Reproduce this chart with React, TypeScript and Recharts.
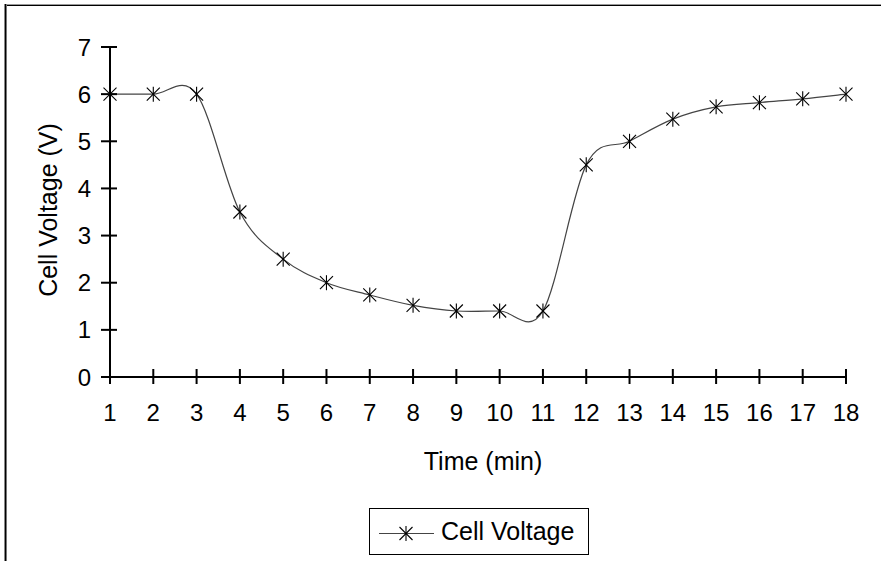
import { Label, Legend, Line, LineChart, XAxis, YAxis } from 'recharts';

const minutes = [1, 2, 3, 4, 5, 6, 7, 8, 9, 10, 11, 12, 13, 14, 15, 16, 17, 18];
const cellVoltage = [6, 6, 6, 3.5, 2.5, 2, 1.74, 1.52, 1.4, 1.4, 1.4, 4.5, 5, 5.47, 5.73, 5.82, 5.9, 6];
const voltageTicks = [0, 1, 2, 3, 4, 5, 6, 7];

const chartData = minutes.map((t, i) => ({ t, v: cellVoltage[i] }));

const FONT = '"Liberation Sans", Arial, sans-serif';
const TICK_SIZE = 24;
const TITLE_SIZE = 25;

// Excel-like smoothed line (Catmull-Rom through every point)
function excelSmooth(context: any) {
  let pts: [number, number][] = [];
  return {
    areaStart() {},
    areaEnd() {},
    lineStart() {
      pts = [];
    },
    lineEnd() {
      if (!pts.length) return;
      context.moveTo(pts[0][0], pts[0][1]);
      for (let i = 0; i < pts.length - 1; i++) {
        const p0 = pts[i - 1] ?? pts[i];
        const p1 = pts[i];
        const p2 = pts[i + 1];
        const p3 = pts[i + 2] ?? p2;
        context.bezierCurveTo(
          p1[0] + (p2[0] - p0[0]) / 6,
          p1[1] + (p2[1] - p0[1]) / 6,
          p2[0] - (p3[0] - p1[0]) / 6,
          p2[1] - (p3[1] - p1[1]) / 6,
          p2[0],
          p2[1],
        );
      }
    },
    point(x: number, y: number) {
      pts.push([x, y]);
    },
  };
}

function Star({ cx, cy }: { cx?: number; cy?: number }) {
  if (cx == null || cy == null) return null;
  return (
    <g stroke="#000" strokeWidth={1.1}>
      <line x1={cx} y1={cy - 7.5} x2={cx} y2={cy + 7.5} />
      <line x1={cx - 6.5} y1={cy - 6.5} x2={cx + 6.5} y2={cy + 6.5} />
      <line x1={cx - 6.5} y1={cy + 6.5} x2={cx + 6.5} y2={cy - 6.5} />
    </g>
  );
}

function YTick({ x, y, payload }: any) {
  return (
    <g>
      <line x1={x - 9} y1={y} x2={x + 7} y2={y} stroke="#000" strokeWidth={2} />
      <text x={x - 19} y={y} dy="0.36em" textAnchor="end" fontFamily={FONT} fontSize={TICK_SIZE} fill="#000">
        {payload.value}
      </text>
    </g>
  );
}

function XTick({ x, y, payload }: any) {
  return (
    <g>
      <line x1={x} y1={y - 8} x2={x} y2={y + 7} stroke="#000" strokeWidth={2} />
      <text x={x} y={y + 44} textAnchor="middle" fontFamily={FONT} fontSize={TICK_SIZE} fill="#000">
        {payload.value}
      </text>
    </g>
  );
}

function LegendBox() {
  return (
    <div
      style={{
        width: 218,
        height: 45,
        border: '1px solid #000',
        position: 'relative',
        background: '#fff',
        fontFamily: FONT,
      }}
    >
      <svg width={70} height={45} style={{ position: 'absolute', left: 0, top: 0 }}>
        <line x1={9} y1={24.5} x2={64} y2={24.5} stroke="#444" strokeWidth={1} />
        <Star cx={36} cy={24.5} />
      </svg>
      <span style={{ position: 'absolute', left: 71, top: 8, fontSize: TITLE_SIZE, lineHeight: '28px', color: '#000' }}>
        Cell Voltage
      </span>
    </div>
  );
}

export default function App() {
  return (
    <div style={{ position: 'absolute', left: 0, top: 0, width: 881, height: 561, background: '#fff' }}>
      <div style={{ position: 'absolute', left: 4, top: 4, width: 877, height: 1, background: '#999' }} />
      <div style={{ position: 'absolute', left: 4, top: 5, width: 877, height: 1, background: '#000' }} />
      <div style={{ position: 'absolute', left: 4, top: 4, width: 1, height: 557, background: '#888' }} />
      <div style={{ position: 'absolute', left: 5, top: 4, width: 1, height: 557, background: '#000' }} />
      <div style={{ position: 'absolute', left: 6, top: 4, width: 1, height: 557, background: '#777' }} />
      <LineChart
        width={881}
        height={561}
        data={chartData}
        margin={{ top: 47, right: 35, bottom: 84, left: 10 }}
      >
        <XAxis
          dataKey="t"
          type="number"
          domain={[1, 18]}
          ticks={minutes}
          interval={0}
          height={100}
          tickSize={0}
          tickMargin={0}
          tickLine={false}
          axisLine={{ stroke: '#000', strokeWidth: 2 }}
          tick={<XTick />}
        >
          <Label
            content={({ viewBox }: any) => (
              <text
                x={viewBox.x + viewBox.width / 2 + 5}
                y={viewBox.y + 93}
                textAnchor="middle"
                fontFamily={FONT}
                fontSize={TITLE_SIZE}
                fill="#000"
              >
                Time (min)
              </text>
            )}
          />
        </XAxis>
        <YAxis
          type="number"
          domain={[0, 7]}
          ticks={voltageTicks}
          interval={0}
          width={100}
          tickSize={0}
          tickMargin={0}
          tickLine={false}
          axisLine={{ stroke: '#000', strokeWidth: 2 }}
          tick={<YTick />}
        >
          <Label
            content={({ viewBox }: any) => {
              const lx = viewBox.x + 47;
              const ly = viewBox.y + viewBox.height / 2 - 2;
              return (
                <text
                  x={lx}
                  y={ly}
                  textAnchor="middle"
                  transform={`rotate(-90, ${lx}, ${ly})`}
                  fontFamily={FONT}
                  fontSize={TITLE_SIZE}
                  fill="#000"
                >
                  Cell Voltage (V)
                </text>
              );
            }}
          />
        </YAxis>
        <Legend
          layout="horizontal"
          verticalAlign="middle"
          align="center"
          content={() => <LegendBox />}
          wrapperStyle={{ left: 369, top: 508, width: 220, height: 47 }}
        />
        <Line
          dataKey="v"
          name="Cell Voltage"
          type={excelSmooth as any}
          stroke="#444"
          strokeWidth={1.2}
          dot={<Star />}
          activeDot={false}
          isAnimationActive={false}
        />
      </LineChart>
    </div>
  );
}
